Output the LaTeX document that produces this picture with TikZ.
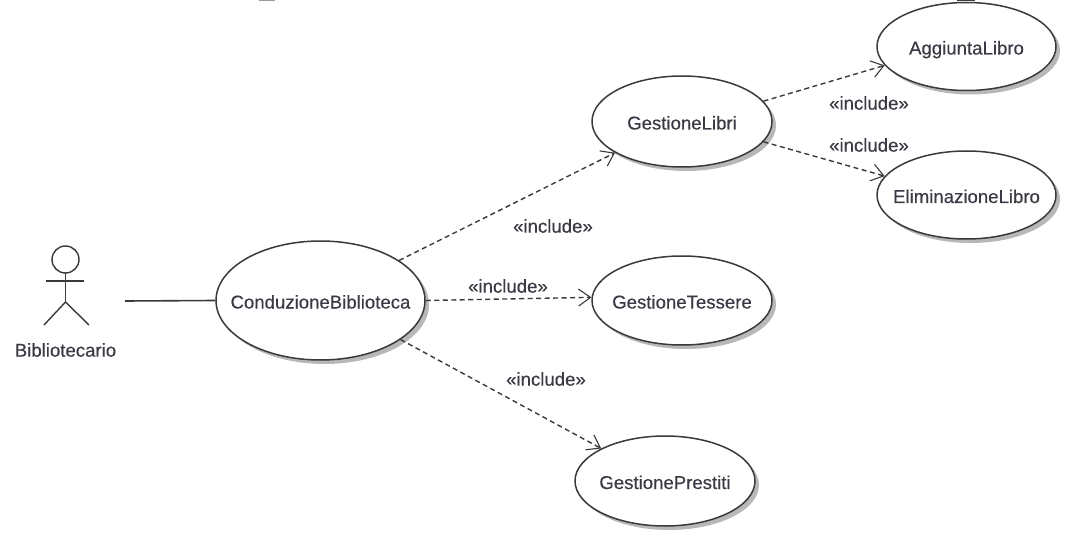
\documentclass[tikz,border=0pt]{standalone}
\usepackage{fontspec}
\newfontfamily\umlfont{Liberation Sans}[FakeBold=0.25]
\usetikzlibrary{shapes.geometric,arrows.meta,shadows}
\definecolor{umlline}{HTML}{3A3A3A}
\definecolor{umltext}{HTML}{3A3A44}
\definecolor{umlshadow}{HTML}{B8B8B8}
\newcommand{\casetext}[1]{\makebox[0pt][c]{#1}}
\tikzset{
  usecase/.style={ellipse,draw=umlline,line width=1.5pt,fill=white,inner sep=0pt,
    text=umltext,font=\fontsize{18.6}{20}\umlfont,text height=16pt,text depth=0pt,
    general shadow={fill=umlshadow,shadow xshift=4pt,shadow yshift=-4pt}},
  caselabel/.style={text=umltext,font=\fontsize{18.6}{20}\umlfont,inner sep=0pt},
  incl/.style={dash pattern=on 5pt off 3.5pt,draw=umlline,line width=1.4pt,
    -{Straight Barb[length=12pt,width=17pt,line width=1.1pt]}},
  assoc/.style={draw=umlline,line width=1.6pt},
  actorline/.style={draw=umlline,line width=1.4pt}
}
\begin{document}
\begin{tikzpicture}[x=1pt,y=-1pt]
\useasboundingbox (0,0) rectangle (1084,540);
\fill[white] (0,0) rectangle (1084,540);
% remains of the cropped title
\fill[gray!80] (259,0) rectangle (275,1.5);
% actor
\draw[actorline] (65.5,259.5) circle[radius=13.5];
\draw[actorline] (65.5,273) -- (65.5,302);
\draw[actorline] (46,281) -- (84,281);
\draw[actorline] (44,325) -- (65.5,302) -- (89,325);
\node[caselabel] (actorname) at (65.5,350) {Bibliotecario};
\coordinate (actorend) at (125,301);
% use cases
\node[usecase,minimum width=209pt,minimum height=119pt] (cond) at (320.5,300.5) {\casetext{ConduzioneBiblioteca}};
\node[usecase,minimum width=180pt,minimum height=91pt] (libri) at (682,121.5) {\casetext{GestioneLibri}};
\node[usecase,minimum width=180pt,minimum height=89pt] (tess) at (682,300.5) {\casetext{GestioneTessere}};
\node[usecase,minimum width=180pt,minimum height=90pt] (prest) at (665,481) {\casetext{GestionePrestiti}};
\node[usecase,minimum width=179pt,minimum height=88pt] (agg) at (966.5,46.5) {\casetext{AggiuntaLibro}};
\node[usecase,minimum width=179pt,minimum height=88pt] (elim) at (966.5,195) {\casetext{EliminazioneLibro}};
\fill[umlline] (957,0) rectangle (975,1.5);
% connectors
\draw[assoc] (actorend) -- (cond.180);
\draw[incl] (cond.27) -- (libri.205.5);
\draw[incl] (cond.0) -- (tess.178);
\draw[incl] (cond.-26.4) -- (prest.153.4);
\draw[incl] (libri.14.7) -- (agg.193.8);
\draw[incl] (libri.-14) -- (elim.167.2);
% labels
\node[caselabel] (l1) at (553,226) {«include»};
\node[caselabel] (l2) at (508,286) {«include»};
\node[caselabel] (l3) at (546,379) {«include»};
\node[caselabel] (l4) at (869,103) {«include»};
\node[caselabel] (l5) at (869,145) {«include»};
\end{tikzpicture}
\end{document}
